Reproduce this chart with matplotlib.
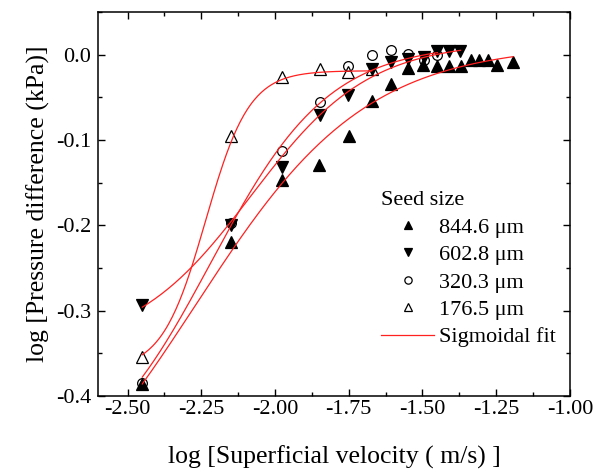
import numpy as np
import matplotlib
matplotlib.use('Agg')
import matplotlib.pyplot as plt
from matplotlib.ticker import MultipleLocator, FormatStrFormatter

plt.rcParams['font.family'] = ['Liberation Serif', 'DejaVu Serif']
plt.rcParams['axes.unicode_minus'] = False

# Measured points, log velocity vs log pressure difference
x_846 = [-2.45, -2.15, -1.975, -1.85, -1.75, -1.67, -1.605, -1.548, -1.497,
         -1.45, -1.41, -1.37, -1.337, -1.307, -1.278, -1.247, -1.193]
y_846 = [-0.386, -0.220, -0.147, -0.129, -0.096, -0.055, -0.034, -0.016, -0.012,
         -0.013, -0.013, -0.013, -0.007, -0.007, -0.007, -0.012, -0.009]

x_603 = [-2.45, -2.15, -1.975, -1.848, -1.752, -1.672, -1.605, -1.548, -1.496,
         -1.449, -1.409, -1.371]
y_603 = [-0.294, -0.200, -0.132, -0.071, -0.047, -0.017, -0.009, -0.005, -0.003,
         0.004, 0.004, 0.004]

x_320 = [-2.45, -2.15, -1.975, -1.848, -1.752, -1.672, -1.605, -1.548, -1.496, -1.449]
y_320 = [-0.385, -0.198, -0.113, -0.056, -0.013, 0.000, 0.005, 0.001, -0.006, -0.001]

x_177 = [-2.45, -2.15, -1.975, -1.848, -1.752, -1.672]
y_177 = [-0.355, -0.096, -0.026, -0.017, -0.021, -0.017]

# Boltzmann sigmoidal fit parameters: A1, A2, x0, dx
fit_846 = [-0.60, 0.012, -2.27, 0.29]
fit_603 = [-0.345, 0.015, -2.08, 0.20]
fit_320 = [-0.50, 0.013, -2.217, 0.20]
fit_177 = [-0.37, -0.019, -2.235, 0.074]

labels = ['844.6 μm', '602.8 μm', '320.3 μm', '176.5 μm']


def boltzmann(x, p):
    a1, a2, x0, dx = p
    return a2 + (a1 - a2) / (1 + np.exp((x - x0) / dx))


fig = plt.figure(figsize=(6.05, 4.73), dpi=100)
ax = fig.add_axes([0.162, 0.163, 0.78, 0.812])

series = [
    (x_846, y_846, fit_846, '^', 'black'),
    (x_603, y_603, fit_603, 'v', 'black'),
    (x_320, y_320, fit_320, 'o', 'none'),
    (x_177, y_177, fit_177, '^', 'none'),
]

handles = []
for (xs, ys, p, m, fc), lab in zip(series, labels):
    ms = 7 if m == 'o' else 8.5
    h, = ax.plot(xs, ys, linestyle='none', marker=m, markersize=ms,
                 markerfacecolor=fc, markeredgecolor='black',
                 markeredgewidth=0.9, label=lab, zorder=2)
    handles.append(h)
    xf = np.linspace(min(xs), max(xs), 200)
    ax.plot(xf, boltzmann(xf, p), color='#ff2020', lw=0.9, zorder=3)
handles.append(plt.Line2D([0], [0], color='#ff2020', lw=0.9))
labels_all = labels + ['Sigmoidal fit']

ax.set_xlim(-2.6, -1.0)
ax.set_ylim(-0.4, 0.05)
ax.xaxis.set_major_locator(MultipleLocator(0.25))
ax.xaxis.set_minor_locator(MultipleLocator(0.125))
ax.yaxis.set_major_locator(MultipleLocator(0.1))
ax.yaxis.set_minor_locator(MultipleLocator(0.05))
ax.xaxis.set_major_formatter(FormatStrFormatter('%.2f'))
ax.yaxis.set_major_formatter(FormatStrFormatter('%.1f'))
ax.tick_params(which='both', direction='in', top=True, right=True,
               labelsize=16, width=1)
ax.tick_params(which='major', length=5, pad=5)
ax.tick_params(which='minor', length=3)
ax.tick_params(axis='x', pad=3)
for s in ax.spines.values():
    s.set_linewidth(1.1)

ax.set_xlabel('log [Superficial velocity ( m/s) ]', fontsize=18.5, labelpad=19)
ax.set_ylabel('log [Pressure difference (kPa)]', fontsize=18.5, labelpad=4)

leg = ax.legend(handles, labels_all, title='Seed size', frameon=False,
                loc='upper left', bbox_to_anchor=(0.6, 0.533),
                fontsize=16, title_fontsize=16, handlelength=2.4,
                handletextpad=0.2, labelspacing=0.31, markerscale=0.75,
                alignment='left', borderaxespad=0, borderpad=0)

fig.savefig('out.png', dpi=100)
